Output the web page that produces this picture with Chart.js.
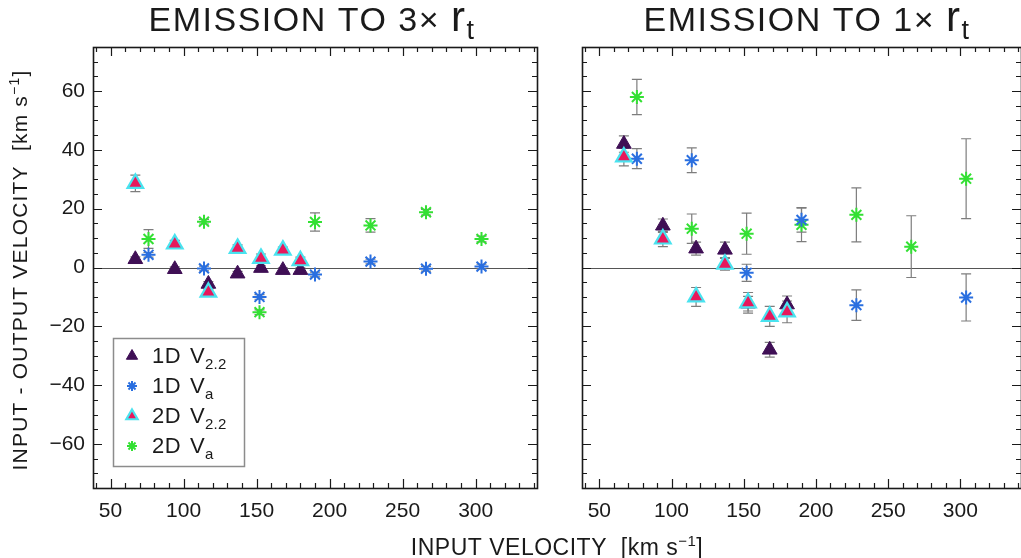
<!DOCTYPE html>
<html>
<head>
<meta charset="utf-8">
<script src="https://cdn.jsdelivr.net/npm/chart.js@4.4.1/dist/chart.umd.min.js"></script>
<style>
  html, body { margin: 0; padding: 0; background: #fff; overflow: hidden; }
  #wrap { position: relative; width: 1021px; height: 558px; }
  canvas { position: absolute; left: 0; top: 0; }
</style>
</head>
<body>
<div id="wrap">
  <canvas id="left" width="1021" height="558"></canvas>
  <canvas id="right" width="1021" height="558"></canvas>
</div>
<script>
// input velocities (km/s) for the two estimators
const velV22 = [67, 94, 117, 137, 153, 168, 180];
const velVa = [76, 114, 152, 190, 228, 266, 304];

// emission to 3x r_t : input - output velocity and error
const r3_1dV22 = [2.8, -0.6, -5.6, -2.1, -0.2, -0.9, -0.9];
const r3_1dV22Err = [0.8, 0.8, 0.8, 0.8, 0.8, 0.8, 0.8];
const r3_2dV22 = [28.6, 8.0, -8.4, 6.5, 3.1, 5.9, 2.3];
const r3_2dV22Err = [2.8, 1.2, 1.0, 1.2, 1.5, 1.0, 1.2];
const r3_1dVa = [4.3, -0.3, -10.0, -2.4, 2.0, -0.4, 0.3];
const r3_1dVaErr = [0.8, 0.8, 0.8, 0.8, 0.8, 0.8, 0.8];
const r3_2dVa = [9.7, 15.6, -15.2, 15.5, 14.3, 18.8, 9.7];
const r3_2dVaErr = [3.2, 0.8, 0.8, 3.1, 2.3, 1.0, 1.0];

// emission to 1x r_t
const r1_1dV22 = [42.0, 14.2, 6.4, 6.0, -12.3, -28.0, -12.6];
const r1_1dV22Err = [2.8, 2.3, 2.2, 2.6, 2.5, 2.5, 2.9];
const r1_2dV22 = [37.6, 9.7, -10.0, 1.1, -12.0, -16.6, -15.1];
const r1_2dV22Err = [3.0, 2.6, 3.2, 2.0, 3.5, 3.4, 3.7];
const r1_1dVa = [37.0, 36.5, -1.8, 16.2, -12.8, null, -10.2];
const r1_1dVaErr = [3.4, 4.2, 2.9, 4.2, 5.2, null, 8.0];
const r1_2dVa = [58.0, 13.2, 11.5, 14.5, 17.9, 7.1, 30.2];
const r1_2dVaErr = [6.0, 5.0, 7.0, 5.7, 9.2, 10.5, 13.6];

const xTickLabels = [50, 100, 150, 200, 250, 300];
const yTickLabels = [-60, -40, -20, 0, 20, 40, 60];

const FONT = '"Liberation Sans", Arial, sans-serif';
const INK = '#1a1a1a';

const styles = {
  v22_1d: { pointStyle: 'triangle', pointRadius: 8.5, backgroundColor: '#3f0f55', borderColor: '#3f0f55', borderWidth: 1 },
  va_1d: { pointStyle: 'star', pointRadius: 7, backgroundColor: '#2a6fe0', borderColor: '#2a6fe0', borderWidth: 2 },
  v22_2d: { pointStyle: 'triangle', pointRadius: 9, backgroundColor: '#e8185c', borderColor: '#49e3ef', borderWidth: 2.2 },
  va_2d: { pointStyle: 'star', pointRadius: 7, backgroundColor: '#33e033', borderColor: '#33e033', borderWidth: 2 }
};

function series(xs, ys, errs, style) {
  const data = [], errors = [];
  xs.forEach((x, i) => {
    if (ys[i] === null) return;
    data.push({ x: x, y: ys[i] });
    errors.push(errs[i]);
  });
  return Object.assign({ data: data, errors: errors, showLine: false, pointHoverRadius: style.pointRadius }, style);
}

// draws a run of text pieces with their own sizes / vertical offsets
function drawRich(ctx, parts, x, y, align, spacing) {
  ctx.letterSpacing = (spacing || 0) + 'px';
  let w = 0;
  parts.forEach(p => { ctx.font = p.s + 'px ' + FONT; p.w = ctx.measureText(p.t).width; w += p.w; });
  let cx = align === 'center' ? x - w / 2 : x;
  ctx.textAlign = 'left';
  ctx.textBaseline = 'alphabetic';
  parts.forEach(p => {
    ctx.font = p.s + 'px ' + FONT;
    ctx.fillText(p.t, cx, y + (p.dy || 0));
    cx += p.w;
  });
  ctx.letterSpacing = '0px';
}

function frameAndTicks(chart) {
  const { ctx, chartArea: a, scales: { x, y } } = chart;
  ctx.save();
  ctx.strokeStyle = INK;
  ctx.lineWidth = 1.2;
  ctx.beginPath();
  for (let v = 40; v <= 340; v += 10) {
    const px = Math.round(x.getPixelForValue(v)) + 0.5;
    const len = v % 50 === 0 ? 9 : 5;
    ctx.moveTo(px, a.bottom); ctx.lineTo(px, a.bottom - len);
    ctx.moveTo(px, a.top); ctx.lineTo(px, a.top + len);
  }
  for (let v = -70; v <= 70; v += 5) {
    const py = Math.round(y.getPixelForValue(v)) + 0.5;
    const len = v % 20 === 0 ? 9 : 5;
    ctx.moveTo(a.left, py); ctx.lineTo(a.left + len, py);
    ctx.moveTo(a.right, py); ctx.lineTo(a.right - len, py);
  }
  ctx.stroke();
  ctx.lineWidth = 1.6;
  ctx.strokeRect(a.left + 0.5, a.top + 0.5, a.right - a.left, a.bottom - a.top);
  ctx.restore();
}

const errorBars = {
  id: 'errorBars',
  beforeDatasetsDraw(chart) {
    const { ctx, chartArea: a, scales: { y } } = chart;
    ctx.save();
    // zero reference line
    ctx.strokeStyle = '#555';
    ctx.lineWidth = 1;
    const y0 = Math.round(y.getPixelForValue(0)) + 0.5;
    ctx.beginPath();
    ctx.moveTo(a.left, y0); ctx.lineTo(a.right, y0);
    ctx.stroke();

    ctx.strokeStyle = '#7d7d7d';
    ctx.lineWidth = 1.2;
    chart.data.datasets.forEach((ds, i) => {
      const meta = chart.getDatasetMeta(i);
      ds.data.forEach((p, j) => {
        const e = ds.errors[j];
        if (!e) return;
        const px = meta.data[j].x;
        const t = y.getPixelForValue(p.y + e), b = y.getPixelForValue(p.y - e);
        ctx.beginPath();
        ctx.moveTo(px, t); ctx.lineTo(px, b);
        ctx.moveTo(px - 5, t); ctx.lineTo(px + 5, t);
        ctx.moveTo(px - 5, b); ctx.lineTo(px + 5, b);
        ctx.stroke();
      });
    });
    ctx.restore();
  }
};

function makeScales(showY, yWidth) {
  return {
    x: {
      type: 'linear', min: 38, max: 342,
      afterBuildTicks: s => { s.ticks = xTickLabels.map(v => ({ value: v })); },
      afterFit: s => { s.height = 70; s.paddingLeft = 0; s.paddingRight = 0; },
      ticks: { font: { family: FONT, size: 21 }, color: INK, padding: 11, maxRotation: 0, autoSkip: false },
      grid: { display: false, drawTicks: false },
      border: { display: false }
    },
    y: {
      type: 'linear', min: -75, max: 75,
      afterBuildTicks: s => { s.ticks = yTickLabels.map(v => ({ value: v })); },
      afterFit: s => { s.width = yWidth; s.paddingTop = 0; s.paddingBottom = 0; },
      ticks: {
        display: showY, font: { family: FONT, size: 21 }, color: INK, padding: 8,
        callback: v => v < 0 ? '\u2212' + Math.abs(v) : String(v)
      },
      grid: { display: false, drawTicks: false },
      border: { display: false }
    }
  };
}

function legendRow(ctx, yc, style, rad, label, sub) {
  ctx.save();
  ctx.fillStyle = style.backgroundColor;
  ctx.strokeStyle = style.borderColor;
  ctx.lineWidth = style.borderWidth;
  Chart.helpers.drawPoint(ctx, { pointStyle: style.pointStyle, radius: rad, borderWidth: style.borderWidth, rotation: 0 }, 132, yc + 1);
  ctx.restore();
  ctx.fillStyle = INK;
  drawRich(ctx, [{ t: label, s: 22 }], 152, yc + 8, 'left', 0.5);
  drawRich(ctx, [{ t: 'V', s: 22 }, { t: sub, s: 15, dy: 6 }], 190, yc + 8, 'left', 0.3);
}

function title(ctx, text, cx) {
  drawRich(ctx, [{ t: text, s: 34 }, { t: 'r', s: 42 }, { t: 't', s: 27, dy: 8 }], cx, 31, 'center', 1.5);
}

const leftDecor = {
  id: 'leftDecor',
  afterDraw(chart) {
    const ctx = chart.ctx;
    frameAndTicks(chart);
    ctx.save();
    ctx.fillStyle = INK;
    title(ctx, 'EMISSION TO 3\u00d7 ', 312);
    drawRich(ctx, [{ t: 'INPUT VELOCITY  [km s', s: 23 }, { t: '\u22121', s: 15, dy: -9 }, { t: ']', s: 23 }], 557, 555, 'center', 0.5);
    ctx.translate(27, 270);
    ctx.rotate(-Math.PI / 2);
    drawRich(ctx, [{ t: 'INPUT - OUTPUT VELOCITY  [km s', s: 21 }, { t: '\u22121', s: 14, dy: -8 }, { t: ']', s: 21 }], 0, 0, 'center', 1.2);
    ctx.restore();

    // legend box
    ctx.save();
    ctx.strokeStyle = '#8c8c8c';
    ctx.lineWidth = 1.5;
    ctx.strokeRect(113.5, 338.5, 131, 128);
    legendRow(ctx, 355, styles.v22_1d, 6.5, '1D', '2.2');
    legendRow(ctx, 385, styles.va_1d, 5, '1D', 'a');
    legendRow(ctx, 415, styles.v22_2d, 6.5, '2D', '2.2');
    legendRow(ctx, 445, styles.va_2d, 5, '2D', 'a');
    ctx.restore();
  }
};

const rightDecor = {
  id: 'rightDecor',
  afterDraw(chart) {
    const ctx = chart.ctx;
    frameAndTicks(chart);
    ctx.save();
    ctx.fillStyle = INK;
    title(ctx, 'EMISSION TO 1\u00d7 ', 807);
    ctx.restore();
  }
};

function makeChart(id, sets, padding, showY, yWidth, decor) {
  return new Chart(document.getElementById(id), {
    type: 'scatter',
    data: { datasets: sets },
    options: {
      responsive: false,
      animation: false,
      events: [],
      layout: { padding: padding, autoPadding: false },
      scales: makeScales(showY, yWidth),
      plugins: { legend: { display: false }, tooltip: { enabled: false } }
    },
    plugins: [errorBars, decor]
  });
}

// first dataset ends up drawn on top
makeChart('left', [
  series(velV22, r3_2dV22, r3_2dV22Err, styles.v22_2d),
  series(velV22, r3_1dV22, r3_1dV22Err, styles.v22_1d),
  series(velVa, r3_1dVa, r3_1dVaErr, styles.va_1d),
  series(velVa, r3_2dVa, r3_2dVaErr, styles.va_2d)
], { top: 47, right: 484, bottom: 0, left: 0 }, true, 93, leftDecor);

makeChart('right', [
  series(velV22, r1_2dV22, r1_2dV22Err, styles.v22_2d),
  series(velV22, r1_1dV22, r1_1dV22Err, styles.v22_1d),
  series(velVa, r1_1dVa, r1_1dVaErr, styles.va_1d),
  series(velVa, r1_2dVa, r1_2dVaErr, styles.va_2d)
], { top: 47, right: 0, bottom: 0, left: 582 }, false, 0, rightDecor);
</script>
</body>
</html>
